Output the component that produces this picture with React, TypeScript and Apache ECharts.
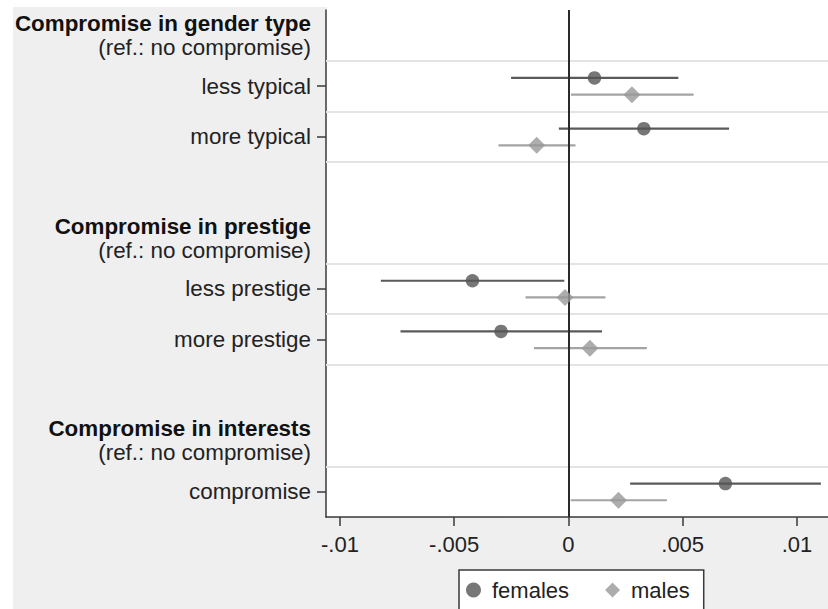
import React, { useEffect, useRef } from "react";
import * as echarts from "echarts";

// ---- data ----
const groupTitles = ["Compromise in gender type", "Compromise in prestige", "Compromise in interests"];
const refNote = "(ref.: no compromise)";
const groupItems = [
  ["less typical", "more typical"],
  ["less prestige", "more prestige"],
  ["compromise"],
];

// order of items: less typical, more typical, less prestige, more prestige, compromise
const femaleEst = [0.00114, 0.0033, -0.0042, -0.00295, 0.00687];
const femaleLo = [-0.00251, -0.00042, -0.00821, -0.00735, 0.0027];
const femaleHi = [0.00481, 0.00703, -0.00018, 0.00147, 0.01105];

const maleEst = [0.00278, -0.00139, -0.00015, 0.00094, 0.00219];
const maleLo = [0.00011, -0.00306, -0.00188, -0.00151, 0.0001];
const maleHi = [0.00548, 0.00031, 0.00162, 0.00343, 0.00431];

const xTickValues = [-0.01, -0.005, 0, 0.005, 0.01];
const xTickLabels = ["-.01", "-.005", "0", ".005", ".01"];

const seriesNames = ["females", "males"];

// ---- build slot layout (header, items, blank gap) ----
type Slot = { kind: "header" | "item" | "blank"; text: string; itemIndex?: number };
const slots: Slot[] = [];
let itemCounter = 0;
groupTitles.forEach((g, gi) => {
  slots.push({ kind: "header", text: g });
  groupItems[gi].forEach((it) => {
    slots.push({ kind: "item", text: it, itemIndex: itemCounter++ });
  });
  if (gi < groupTitles.length - 1) slots.push({ kind: "blank", text: "" });
});
const nSlots = slots.length;
const slotPos = slots.map((_, i) => nSlots - i - 0.5);
const itemPos: number[] = [];
slots.forEach((s, i) => {
  if (s.kind === "item") itemPos[s.itemIndex as number] = slotPos[i];
});
const labelPositions = slotPos.filter((_, i) => slots[i].kind !== "blank");
const gridLinePositions = Array.from(
  new Set(itemPos.flatMap((p) => [p + 0.5, p - 0.5]).filter((v) => v > 0.01 && v < nSlots - 0.01))
);

const FEMALE_OFF = 0.16;
const MALE_OFF = -0.17;

const femaleColor = "#555555";
const femaleLine = "#5a5a5a";
const maleColor = "#999999";
const maleLine = "#a4a4a4";

const FONT = "'Liberation Sans', Arial, sans-serif";
const LABEL_SIZE = 22.4;

function ciSeries(name: string, lo: number[], hi: number[], off: number, color: string, extra: any = {}) {
  return {
    type: "custom",
    name,
    z: 2,
    silent: true,
    encode: { x: [0, 1], y: 2 },
    data: lo.map((l, i) => [l, hi[i], itemPos[i] + off]),
    renderItem: (_params: any, api: any) => {
      const p1 = api.coord([api.value(0), api.value(2)]);
      const p2 = api.coord([api.value(1), api.value(2)]);
      return {
        type: "line",
        shape: { x1: p1[0], y1: p1[1], x2: p2[0], y2: p2[1] },
        style: { stroke: color, lineWidth: 2.2 },
      };
    },
    ...extra,
  };
}

export default function App() {
  const ref = useRef<HTMLDivElement>(null);
  useEffect(() => {
    if (!ref.current) return;
    const chart = echarts.init(ref.current, undefined, { renderer: "svg" });
    const option: any = {
      animation: false,
      backgroundColor: "#efefef",
      textStyle: { fontFamily: FONT },
      graphic: {
        elements: [
          { type: "rect", shape: { x: 0, y: 0, width: 828, height: 7 }, style: { fill: "#ffffff" }, silent: true },
          { type: "rect", shape: { x: 0, y: 0, width: 13, height: 609 }, style: { fill: "#ffffff" }, silent: true },
          { type: "rect", shape: { x: 327, y: 0, width: 501, height: 11 }, style: { fill: "#ffffff" }, silent: true },
        ],
      },
      grid: {
        left: 326,
        right: 0,
        top: 10,
        bottom: 92,
        show: true,
        backgroundColor: "#ffffff",
        borderWidth: 0,
      },
      legend: {
        left: 459,
        top: 570,
        orient: "horizontal",
        backgroundColor: "#ffffff",
        borderColor: "#3a3a3a",
        borderWidth: 1.5,
        borderRadius: 0,
        padding: [9, 14, 30, 7],
        itemGap: 36,
        itemWidth: 15,
        itemHeight: 15,
        textStyle: { fontSize: 22, color: "#222", fontFamily: FONT, padding: [0, 0, 0, 6] },
        data: [
          { name: seriesNames[0], icon: "circle" },
          { name: seriesNames[1], icon: "diamond" },
        ],
        selectedMode: false,
      },
      xAxis: {
        type: "value",
        min: -0.01061,
        max: 0.01136,
        axisLine: { show: true, onZero: false, lineStyle: { color: "#3a3a3a", width: 1.5 } },
        axisTick: { show: true, customValues: xTickValues, length: 9, lineStyle: { color: "#3a3a3a", width: 1.5 } },
        axisLabel: {
          customValues: xTickValues,
          margin: 16,
          fontSize: 22,
          color: "#222",
          fontFamily: FONT,
          formatter: (v: number) => {
            const i = xTickValues.findIndex((t) => Math.abs(t - v) < 1e-9);
            return i >= 0 ? xTickLabels[i] : "";
          },
        },
        splitLine: { show: false },
      },
      yAxis: {
        type: "value",
        min: 0,
        max: nSlots,
        axisLine: { show: true, onZero: false, lineStyle: { color: "#3a3a3a", width: 1.5 } },
        axisTick: { show: true, customValues: itemPos, length: 9, lineStyle: { color: "#3a3a3a", width: 1.5 } },
        axisLabel: {
          customValues: labelPositions,
          margin: 15,
          fontSize: LABEL_SIZE,
          color: "#222",
          fontFamily: FONT,
          formatter: (v: number) => {
            const i = slotPos.findIndex((p) => Math.abs(p - v) < 1e-6);
            if (i < 0) return "";
            const s = slots[i];
            if (s.kind === "header") return "{b|" + s.text + "}\n{r|" + refNote + "}";
            return s.text;
          },
          rich: {
            b: { fontSize: LABEL_SIZE, fontWeight: "bold", color: "#111", lineHeight: 24, align: "right", fontFamily: FONT },
            r: { fontSize: LABEL_SIZE, color: "#222", lineHeight: 24, align: "right", fontFamily: FONT },
          },
        },
        splitLine: { show: false },
      },
      series: [
        ciSeries("females CI", femaleLo, femaleHi, FEMALE_OFF, femaleLine, {
          markLine: {
            silent: true,
            symbol: ["none", "none"],
            label: { show: false },
            z: 1,
            data: [
              ...gridLinePositions.map((p) => ({ yAxis: p, lineStyle: { color: "#e4e4e4", width: 2, type: "solid" } })),
            ],
          },
        }),
        ciSeries("males CI", maleLo, maleHi, MALE_OFF, maleLine, {
          markLine: {
            silent: true,
            symbol: ["none", "none"],
            label: { show: false },
            data: [{ xAxis: 0, lineStyle: { color: "#2a2a2a", width: 2, type: "solid" } }],
          },
        }),
        {
          type: "scatter",
          name: seriesNames[0],
          z: 10,
          symbol: "circle",
          symbolSize: 13.5,
          itemStyle: { color: femaleColor },
          data: femaleEst.map((e, i) => [e, itemPos[i] + FEMALE_OFF]),
        },
        {
          type: "scatter",
          name: seriesNames[1],
          z: 10,
          symbol: "diamond",
          symbolSize: 17,
          itemStyle: { color: maleColor },
          data: maleEst.map((e, i) => [e, itemPos[i] + MALE_OFF]),
        },
      ],
    };
    chart.setOption(option);
    return () => chart.dispose();
  }, []);
  return (
    <div
      ref={ref}
      style={{ position: "fixed", left: 0, top: 0, width: 828, height: 609 }}
    />
  );
}
